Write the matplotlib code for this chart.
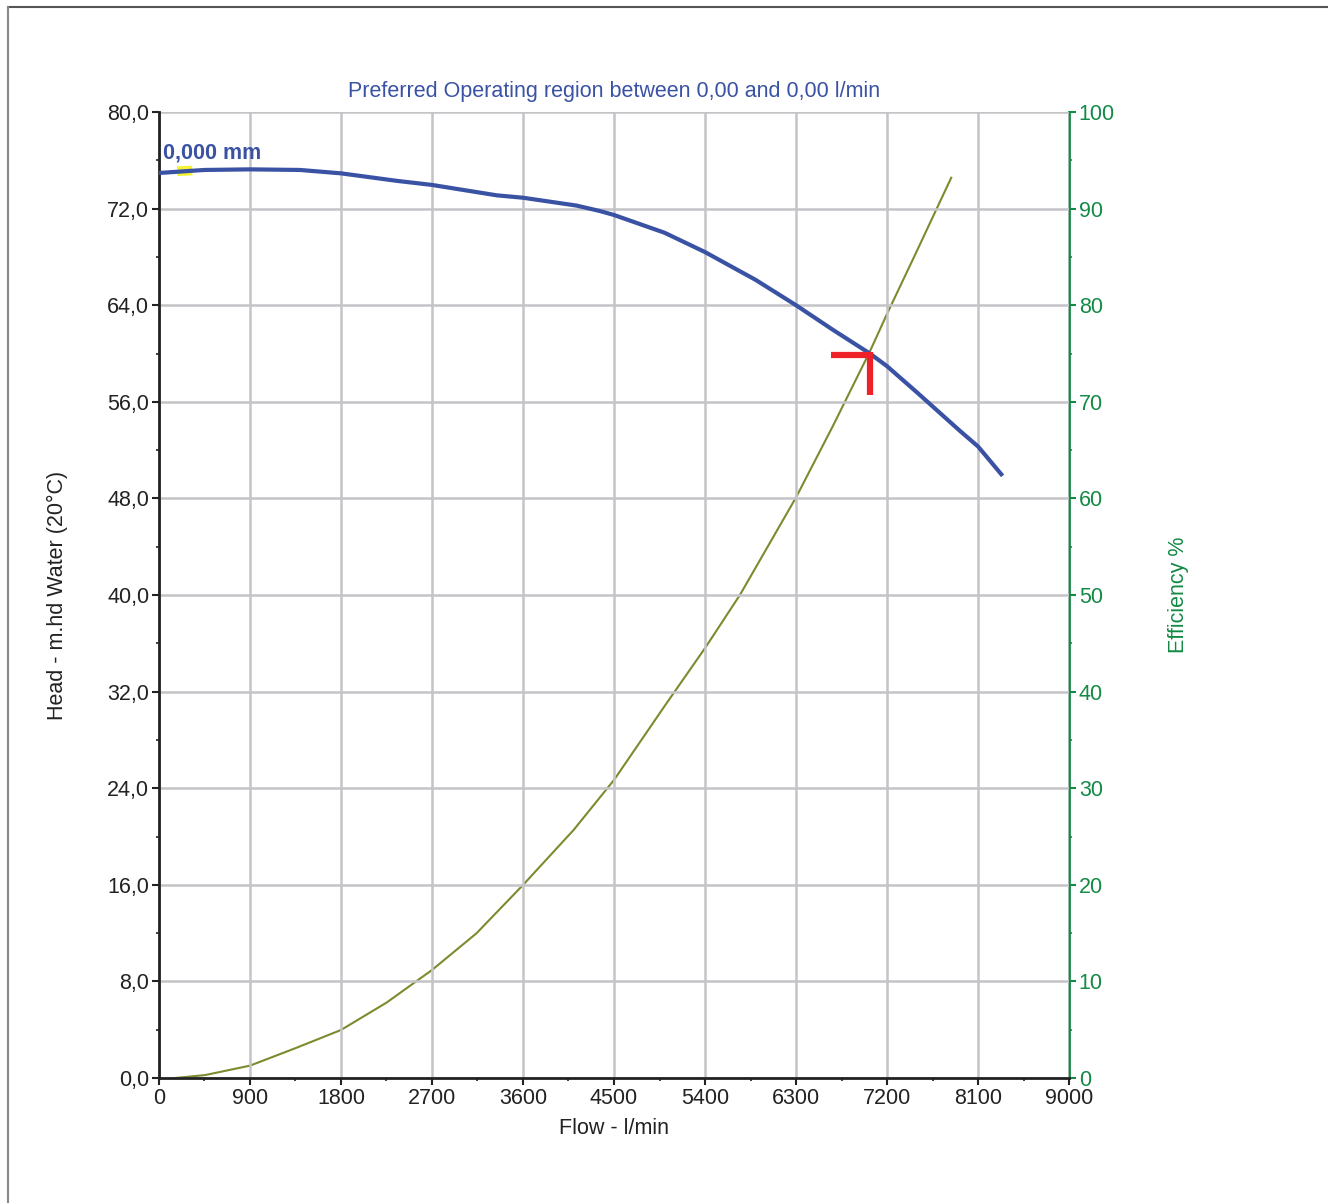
import numpy as np
import matplotlib
matplotlib.use('Agg')
import matplotlib.pyplot as plt
from matplotlib.ticker import MultipleLocator, FuncFormatter
from matplotlib.lines import Line2D

plt.rcParams['font.family'] = ['Liberation Sans', 'DejaVu Sans']

# head curve (flow l/min, head m)
flow_head = [0, 450, 900, 1395, 1800, 2350, 2700, 3340, 3600, 4130, 4360, 4500,
             5000, 5400, 5900, 6300, 6665, 7030, 7200, 7500, 7920, 8100, 8330]
head = [74.95, 75.2, 75.25, 75.2, 74.92, 74.3, 73.96, 73.1, 72.9, 72.25, 71.8, 71.47,
        70.0, 68.4, 66.1, 64.0, 61.96, 60.0, 58.95, 56.75, 53.6, 52.3, 50.0]

# efficiency curve (flow l/min, %)
flow_eff = [160, 455, 900, 1345, 1800, 2250, 2700, 3140, 3600, 4100, 4500, 5020,
            5400, 5745, 6300, 6665, 7030, 7200, 7490, 7835]
eff = [0.0, 0.3, 1.28, 3.07, 4.97, 7.8, 11.18, 14.98, 19.98, 25.67, 30.85, 38.8,
       44.5, 50.0, 60.1, 67.5, 75.2, 79.1, 85.5, 93.2]

# operating point marker
op_flow, op_head = 7031, 59.9
op_left, op_down = 6647, 56.56

# highlighted diameter label
label_text = "0,000 mm"
hl_flow = [180, 330]
hl_head = [75.1, 75.15]

title = "Preferred Operating region between 0,00 and 0,00 l/min"

blue = '#3a52a4'
olive = '#7d8a2e'
green = '#138a45'
grid_c = '#c4c4c8'
fs = 15.5

fig = plt.figure(figsize=(13.28, 12.03), dpi=100)
ax = fig.add_axes([0.1197, 0.1039, 0.6853, 0.8030])
ax2 = ax.twinx()

ax.set_xlim(0, 9000)
ax.set_ylim(0, 80)
ax2.set_ylim(0, 100)

ax.xaxis.set_major_locator(MultipleLocator(900))
ax.xaxis.set_minor_locator(MultipleLocator(450))
ax.yaxis.set_major_locator(MultipleLocator(8))
ax.yaxis.set_minor_locator(MultipleLocator(4))
ax2.yaxis.set_major_locator(MultipleLocator(10))
ax2.yaxis.set_minor_locator(MultipleLocator(5))
ax.yaxis.set_major_formatter(FuncFormatter(lambda v, p: ("%.1f" % v).replace('.', ',')))

ax.grid(True, which='major', color=grid_c, lw=1.8)
ax.set_axisbelow(True)

ax.spines['top'].set_visible(False)
ax2.spines['top'].set_visible(False)
ax.spines['right'].set_visible(False)
ax2.spines['left'].set_visible(False)
ax2.spines['bottom'].set_visible(False)
ax.spines['left'].set_linewidth(2)
ax.spines['bottom'].set_linewidth(2)
ax.spines['left'].set_color('#222222')
ax.spines['bottom'].set_color('#222222')
ax2.spines['right'].set_color(green)
ax2.spines['right'].set_linewidth(2)

ax.tick_params(axis='both', which='major', length=5, width=1.5, labelsize=fs,
               colors='#222222', pad=2)
ax.tick_params(axis='both', which='minor', length=2, width=1.2, colors='#222222')
ax2.tick_params(axis='y', which='major', length=5, width=1.5, labelsize=fs,
                colors=green, pad=2)
ax2.tick_params(axis='y', which='minor', length=2, width=1.2, colors=green)

# efficiency
ax2.plot(flow_eff, eff, color=olive, lw=1.5, zorder=3)

# head curve
ax.plot(hl_flow, hl_head, color='#f2f200', lw=7, solid_capstyle='butt', zorder=3, alpha=0.8)
ax.plot(flow_head, head, color=blue, lw=3, zorder=4)
ax.text(40, 76.6, label_text, color=blue, fontsize=fs, fontweight='bold',
        va='center', ha='left')

# operating point marker
ax.plot([op_left, op_flow], [op_head, op_head], color='#ee2028', lw=4.5,
        solid_capstyle='butt', zorder=6)
ax.plot([op_flow, op_flow], [op_head + 0.2, op_down], color='#ee2028', lw=4.5,
        solid_capstyle='butt', zorder=6)
ax.set_zorder(2)
ax.patch.set_visible(False)

ax.set_title(title, color=blue, fontsize=fs, pad=11)
ax.set_xlabel("Flow - l/min", fontsize=fs, color='#222222', labelpad=7)
ax.set_ylabel("Head - m.hd Water (20°C)", fontsize=fs, color='#222222', labelpad=28)
ax2.set_ylabel("Efficiency %", fontsize=fs, color=green, labelpad=38)

# outer frame (top and left edges)
fig.add_artist(Line2D([8 / 1328, 1], [1 - 7 / 1203, 1 - 7 / 1203],
                      transform=fig.transFigure, color='#555555', lw=1.5))
fig.add_artist(Line2D([8 / 1328, 8 / 1328], [0, 1 - 7 / 1203],
                      transform=fig.transFigure, color='#888888', lw=1.5))

fig.savefig('out.png', dpi=100)
